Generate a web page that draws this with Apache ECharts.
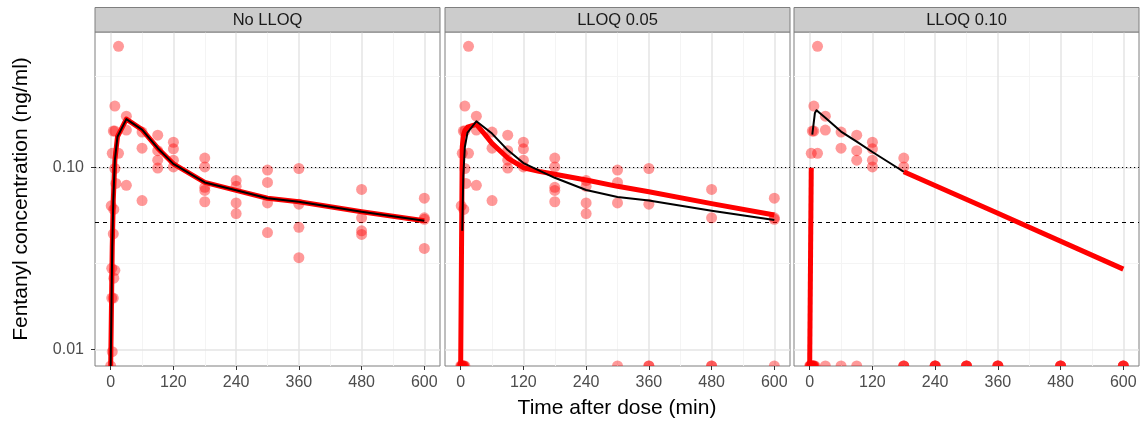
<!DOCTYPE html>
<html><head><meta charset="utf-8">
<script src="https://cdn.jsdelivr.net/npm/echarts@6/dist/echarts.min.js"></script>
<style>html,body{margin:0;padding:0;background:#fff}#c{width:1142px;height:426px}</style>
</head><body><div id="c"></div>
<script>
// ---- chart data ----
const panels = ['No LLOQ', 'LLOQ 0.05', 'LLOQ 0.10'];
const lloq = [0, 0.05, 0.10];
const xTicks = [0, 120, 240, 360, 480, 600];
const xMinor = [60, 180, 300, 420, 540];
const yTicks = [0.01, 0.1];
const yTickLabels = ['0.01', '0.10'];
const yMinor = [0.0316, 0.316];
const refDotted = 0.1;
const refDashed = 0.05;
const X_MIN = -30, X_MAX = 630;
const Y_MIN = 0.00813, Y_MAX = 0.557;   // 0 / BLQ values are drawn at the lower panel edge

const obsTime = [0, 1, 2, 2, 3, 3, 5, 5, 5, 6, 6, 8, 8, 8, 8, 10, 15, 15,
  30, 30, 30, 60, 60, 60, 90, 90, 90, 90, 120, 120, 120, 120,
  180, 180, 180, 180, 180, 240, 240, 240, 240, 300, 300, 300, 300,
  360, 360, 360, 360, 480, 480, 480, 480, 600, 600, 600, 600];
const obsConc = [0, 0.0617, 0.028, 0.0192, 0.00975, 0.120, 0.0192, 0.0433, 0.159, 0.0247, 0.059,
  0.0273, 0.159, 0.218, 0.099, 0.082, 0.465, 0.120,
  0.192, 0.161, 0.080, 0.157, 0.128, 0.066, 0.151, 0.124, 0.110, 0.0996, 0.138, 0.127, 0.110, 0.101,
  0.113, 0.101, 0.078, 0.075, 0.065, 0.085, 0.079, 0.064, 0.056, 0.097, 0.083, 0.064, 0.044,
  0.099, 0.063, 0.047, 0.032, 0.076, 0.053, 0.045, 0.043, 0.068, 0.053, 0.052, 0.036];

// black line per panel
const black1Time = [0, 3, 5, 8, 13, 30, 60, 90, 120, 180, 240, 300, 360, 480, 600];
const black1Conc = [0, 0.037, 0.0665, 0.110, 0.148, 0.185, 0.162, 0.128, 0.105, 0.083, 0.0751, 0.0679, 0.065, 0.0573, 0.0511];
const black2Time = [3, 5, 8, 13, 30, 60, 90, 120, 180, 240, 300, 360, 480, 600];
const black2Conc = [0.045, 0.09, 0.13, 0.156, 0.180, 0.154, 0.125, 0.106, 0.088, 0.0754, 0.069, 0.066, 0.058, 0.0516];
const black3Time = [5, 10, 13, 30, 60, 90, 120, 180];
const black3Conc = [0.152, 0.200, 0.207, 0.188, 0.158, 0.139, 0.122, 0.095];

// red (thick) line per panel
const red1Time = [0, 3, 5, 8, 13, 30, 60, 90, 120, 180, 240, 300, 360, 480, 600];
const red1Conc = [0, 0.037, 0.0665, 0.110, 0.148, 0.185, 0.162, 0.128, 0.105, 0.083, 0.0751, 0.0679, 0.065, 0.0573, 0.0511];
const red2Time = [0, 3, 5, 8, 13, 30, 45, 60, 90, 120, 150, 180, 240, 300, 360, 480, 600];
const red2Conc = [0, 0.13, 0.15, 0.16, 0.167, 0.173, 0.154, 0.136, 0.113, 0.100, 0.0955, 0.092, 0.0856, 0.079, 0.0738, 0.0635, 0.0549];
const red3aTime = [0, 3];
const red3aConc = [0, 0.10];
const red3bTime = [180, 360, 600];
const red3bConc = [0.095, 0.0562, 0.0277];

// ---- layout / style ----
const FONT = '"Liberation Sans", Arial, Helvetica, sans-serif';
const LEFTS = [95, 445, 794];
const PW = 345, PT = 32, PH = 334, STRIP_TOP = 7.5;
const POINT = 'rgba(255,0,0,0.5)';

const toFloor = c => (c > 0 ? c : Y_MIN);
const pairs = (t, c) => t.map((v, i) => [v, toFloor(c[i])]);

const blackLines = [[black1Time, black1Conc], [black2Time, black2Conc], [black3Time, black3Conc]];
const redLines = [
  [[red1Time, red1Conc]],
  [[red2Time, red2Conc]],
  [[red3aTime, red3aConc], [red3bTime, red3bConc]]
];

const gridMarks = [].concat(
  xMinor.map(v => ({ xAxis: v, lineStyle: { color: '#F4F4F4', width: 1, type: 'solid' } })),
  yMinor.map(v => ({ yAxis: v, lineStyle: { color: '#F4F4F4', width: 1, type: 'solid' } })),
  xTicks.map(v => ({ xAxis: v, lineStyle: { color: '#E5E5E5', width: 1.5, type: 'solid' } })),
  yTicks.map(v => ({ yAxis: v, lineStyle: { color: '#E5E5E5', width: 1.5, type: 'solid' } })),
  [{ yAxis: refDotted, lineStyle: { color: '#000', width: 1, type: [1.2, 2.8] } },
   { yAxis: refDashed, lineStyle: { color: '#000', width: 1, type: [4, 4] } }]
);

const series = [];
panels.forEach((p, i) => {
  const above = [], below = [];
  obsTime.forEach((t, k) => {
    const c = obsConc[k];
    if (c <= 0 || c < lloq[i]) below.push([t, Y_MIN]); else above.push([t, c]);
  });
  series.push({
    type: 'scatter', xAxisIndex: i, yAxisIndex: i, z: 2,
    symbol: 'circle', symbolSize: 11, itemStyle: { color: POINT },
    data: above, silent: true,
    markLine: { z: 1, silent: true, symbol: 'none', label: { show: false }, animation: false, data: gridMarks }
  });
  series.push({
    type: 'scatter', xAxisIndex: i, yAxisIndex: i, z: 2,
    symbol: 'path://M0 10 A10 10 0 0 1 20 10 Z', symbolSize: [11, 5.5], symbolOffset: [0, -2.75],
    itemStyle: { color: POINT }, data: below, silent: true
  });
  redLines[i].forEach(([t, c]) => series.push({
    type: 'line', xAxisIndex: i, yAxisIndex: i, z: 3, symbol: 'none', silent: true,
    lineStyle: { color: '#FF0000', width: 5, join: 'round' }, data: pairs(t, c)
  }));
  series.push({
    type: 'line', xAxisIndex: i, yAxisIndex: i, z: 4, symbol: 'none', silent: true,
    lineStyle: { color: '#000000', width: 2, join: 'round' }, data: pairs(blackLines[i][0], blackLines[i][1])
  });
});

const graphic = [];
panels.forEach((p, i) => {
  graphic.push({ type: 'rect', z: 10, shape: { x: LEFTS[i], y: STRIP_TOP, width: PW, height: PT - STRIP_TOP },
    style: { fill: '#CCCCCC', stroke: '#7F7F7F', lineWidth: 1 } });
  graphic.push({ type: 'text', z: 11, x: LEFTS[i] + PW / 2, y: (STRIP_TOP + PT) / 2 + 0.5,
    style: { text: p, font: '16.5px ' + FONT, fill: '#1A1A1A', align: 'center', verticalAlign: 'middle',
             textAlign: 'center', textVerticalAlign: 'middle' } });
});
graphic.push({ type: 'text', x: (LEFTS[0] + LEFTS[2] + PW) / 2, y: 408,
  style: { text: 'Time after dose (min)', font: '21px ' + FONT, fill: '#000', align: 'center', verticalAlign: 'middle',
           textAlign: 'center', textVerticalAlign: 'middle' } });
graphic.push({ type: 'text', x: 21, y: PT + PH / 2, rotation: Math.PI / 2,
  style: { text: 'Fentanyl concentration (ng/ml)', font: '21px ' + FONT, fill: '#000', align: 'center', verticalAlign: 'middle',
           textAlign: 'center', textVerticalAlign: 'middle' } });

const option = {
  animation: false,
  textStyle: { fontFamily: FONT },
  grid: panels.map((p, i) => ({
    left: LEFTS[i], top: PT, width: PW, height: PH, show: true, backgroundColor: '#fff',
    borderColor: '#7F7F7F', borderWidth: 1, containLabel: false, outerBoundsMode: 'none'
  })),
  xAxis: panels.map((p, i) => ({
    gridIndex: i, type: 'value', min: X_MIN, max: X_MAX,
    axisLine: { show: false, onZero: false }, splitLine: { show: false },
    axisTick: { show: true, customValues: xTicks, length: 4, lineStyle: { color: '#333333', width: 1 } },
    axisLabel: { customValues: xTicks, color: '#4D4D4D', fontSize: 16, margin: 9, fontFamily: FONT }
  })),
  yAxis: panels.map((p, i) => ({
    gridIndex: i, type: 'log', logBase: 10, min: Y_MIN, max: Y_MAX,
    axisLine: { show: false, onZero: false }, splitLine: { show: false }, minorSplitLine: { show: false },
    axisTick: { show: i === 0, customValues: yTicks, length: 4, lineStyle: { color: '#333333', width: 1 } },
    axisLabel: { show: i === 0, customValues: yTicks, color: '#4D4D4D', fontSize: 16, margin: 11, fontFamily: FONT,
      formatter: v => { const k = yTicks.findIndex(t => Math.abs(t - v) < 1e-9); return k >= 0 ? yTickLabels[k] : ''; } }
  })),
  series: series,
  graphic: graphic
};
echarts.init(document.getElementById('c'), null, { renderer: 'canvas' }).setOption(option);
</script></body></html>
